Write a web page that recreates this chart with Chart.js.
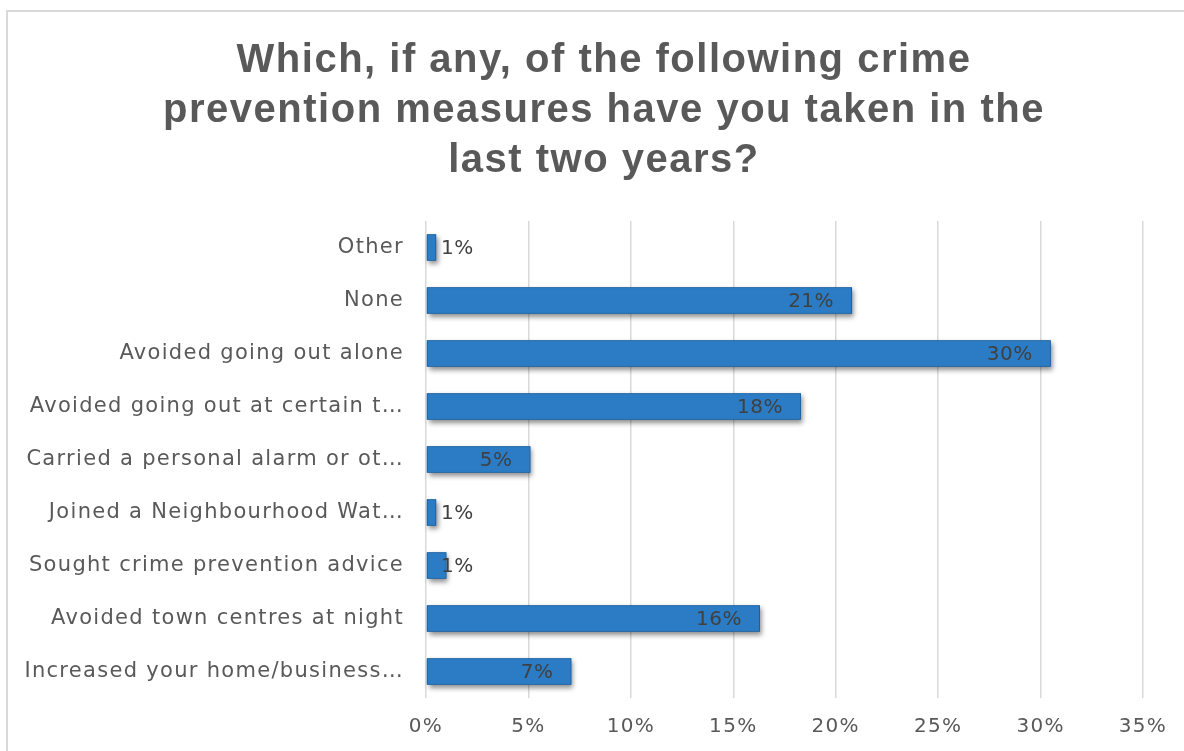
<!DOCTYPE html>
<html>
<head>
<meta charset="utf-8">
<script src="https://cdn.jsdelivr.net/npm/chart.js@4.4.1/dist/chart.umd.min.js"></script>
<style>
  html, body { margin: 0; padding: 0; background: #ffffff; overflow: hidden; }
  #wrap { position: relative; width: 1184px; height: 751px; }
  #frame { position: absolute; left: 6px; top: 10px; width: 1300px; height: 900px; border: 2px solid #d9d9d9; box-sizing: border-box; }
  canvas { position: absolute; left: 0; top: 0; }
</style>
</head>
<body>
<div id="wrap">
  <div id="frame"></div>
  <canvas id="c" width="1184" height="751"></canvas>
</div>
<script>
const titleLines = [
  'Which, if any, of the following crime',
  'prevention measures have you taken in the',
  'last two years?'
];
const categories = [
  'Other',
  'None',
  'Avoided going out alone',
  'Avoided going out at certain t\u2026',
  'Carried a personal alarm or ot\u2026',
  'Joined a Neighbourhood Wat\u2026',
  'Sought crime prevention advice',
  'Avoided town centres at night',
  'Increased your home/business\u2026'
];
const values = [0.5, 20.8, 30.5, 18.3, 5.1, 0.5, 1.0, 16.3, 7.1];
const valueLabels = ['1%', '21%', '30%', '18%', '5%', '1%', '1%', '16%', '7%'];
const xTicks = [0, 5, 10, 15, 20, 25, 30, 35];

const FONT = "'DejaVu Sans', sans-serif";
const BAR_COLOR = '#2B7CC4';

const canvas = document.getElementById('c');

const spacing = {
  id: 'spacing',
  beforeDraw(chart) {
    if ('letterSpacing' in chart.ctx) chart.ctx.letterSpacing = '1.3px';
  }
};

const titleDraw = {
  id: 'titleDraw',
  afterDraw(chart) {
    const ctx = chart.ctx;
    ctx.save();
    ctx.font = "bold 40px 'Liberation Sans', Arial, sans-serif";
    ctx.fillStyle = '#595959';
    ctx.textAlign = 'center';
    ctx.textBaseline = 'middle';
    if ('letterSpacing' in ctx) ctx.letterSpacing = '1.5px';
    titleLines.forEach((line, i) => {
      ctx.fillText(line, 604, 61 + i * 50);
    });
    ctx.restore();
  }
};

const barShadow = {
  id: 'barShadow',
  beforeDatasetDraw(chart, args) {
    const ctx = chart.ctx;
    ctx.save();
    ctx.shadowColor = 'rgba(0,0,0,0.45)';
    ctx.shadowBlur = 5;
    ctx.shadowOffsetX = 2;
    ctx.shadowOffsetY = 3;
    ctx.fillStyle = BAR_COLOR;
    args.meta.data.forEach(el => {
      const p = el.getProps(['x', 'y', 'base', 'height'], true);
      const left = Math.min(p.x, p.base);
      const w = Math.abs(p.x - p.base);
      ctx.fillRect(left, p.y - p.height / 2, w, p.height);
    });
    ctx.restore();
  }
};

const barLabels = {
  id: 'barLabels',
  afterDatasetsDraw(chart) {
    const ctx = chart.ctx;
    const meta = chart.getDatasetMeta(0);
    const x0 = chart.scales.x.getPixelForValue(0);
    ctx.save();
    ctx.font = '20px ' + FONT;
    if ('letterSpacing' in ctx) ctx.letterSpacing = '0.5px';
    ctx.fillStyle = '#404040';
    ctx.textBaseline = 'middle';
    ctx.textAlign = 'left';
    meta.data.forEach((el, i) => {
      const t = valueLabels[i];
      const w = ctx.measureText(t).width;
      const left = Math.max(el.x - 18 - w, x0 + 15);
      ctx.fillText(t, left, el.y + 1);
    });
    ctx.restore();
  }
};

new Chart(canvas, {
  type: 'bar',
  data: {
    labels: categories,
    datasets: [{
      data: values,
      backgroundColor: BAR_COLOR,
      borderColor: '#1D5A94',
      borderWidth: 1,
      borderSkipped: false,
      categoryPercentage: 0.5,
      barPercentage: 1.0
    }]
  },
  options: {
    indexAxis: 'y',
    responsive: false,
    animation: false,
    layout: { padding: { left: 8, right: 41, top: 221, bottom: 0 } },
    plugins: {
      legend: { display: false },
      tooltip: { enabled: false },
      title: { display: false }
    },
    scales: {
      x: {
        min: 0,
        max: 35,
        afterFit(scale) { scale.height = 53; },
        afterBuildTicks(scale) { scale.ticks = xTicks.map(v => ({ value: v })); },
        grid: { color: '#d9d9d9', lineWidth: 1.5, drawTicks: false },
        border: { display: false },
        ticks: {
          padding: 17,
          color: '#595959',
          font: { family: FONT, size: 20 },
          callback: v => v + '%'
        }
      },
      y: {
        afterFit(scale) { scale.width = 418; },
        grid: { display: false, drawTicks: false },
        border: { display: false },
        ticks: {
          padding: 22,
          color: '#595959',
          font: { family: FONT, size: 21 }
        }
      }
    }
  },
  plugins: [spacing, barShadow, barLabels, titleDraw]
});
</script>
</body>
</html>
